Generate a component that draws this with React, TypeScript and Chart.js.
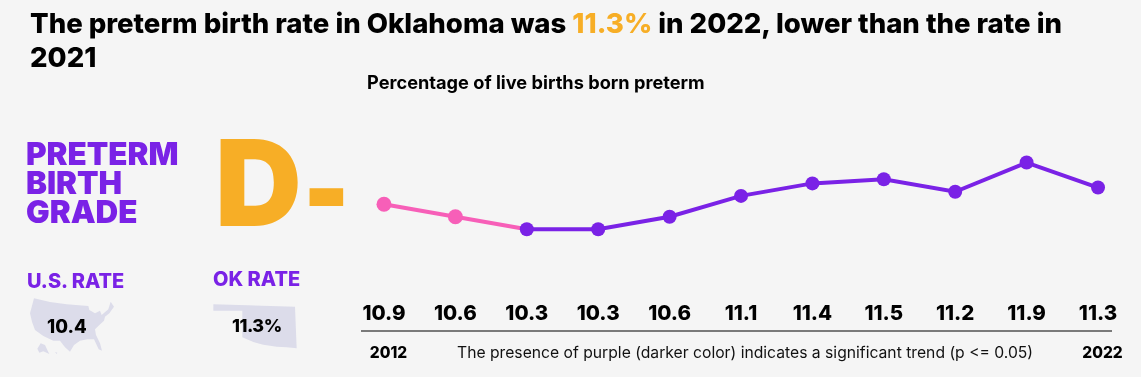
import React, { useEffect, useRef } from "react";
import { Chart, registerables } from "chart.js";

Chart.register(...registerables);

const years = [2012, 2013, 2014, 2015, 2016, 2017, 2018, 2019, 2020, 2021, 2022];
const rates = [10.9, 10.6, 10.3, 10.3, 10.6, 11.1, 11.4, 11.5, 11.2, 11.9, 11.3];
const significant = [false, false, true, true, true, true, true, true, true, true, true];
const edgeYears = [2012, 2022];

const PURPLE = "#7A22E6";
const PINK = "#F75FB8";
const GOLD = "#F7AE26";
const FONT = "Inter, sans-serif";

const text = (
  left: number,
  top: number,
  style: React.CSSProperties
): React.CSSProperties => ({
  position: "absolute",
  left,
  top,
  margin: 0,
  whiteSpace: "pre",
  fontFamily: FONT,
  ...style,
});

export default function App() {
  const ref = useRef<HTMLCanvasElement | null>(null);

  useEffect(() => {
    document.body.style.margin = "0";
    const chart = new Chart(ref.current!, {
      type: "line",
      data: {
        datasets: [
          {
            data: years.map((y, i) => ({ x: y, y: rates[i] })),
            borderWidth: 4,
            borderColor: PURPLE,
            segment: {
              borderColor: (c: any) => (significant[c.p1DataIndex] && significant[c.p0DataIndex] ? PURPLE : PINK),
            },
            pointRadius: significant.map((s) => (s ? 7 : 7.5)),
            pointBackgroundColor: significant.map((s) => (s ? PURPLE : PINK)),
            pointBorderWidth: 0,
            tension: 0,
          },
        ],
      },
      options: {
        animation: false,
        responsive: false,
        events: [],
        layout: { padding: { left: 362, right: 30, top: 100, bottom: 0 } },
        plugins: { legend: { display: false }, tooltip: { enabled: false } },
        scales: {
          x: {
            type: "linear",
            min: 2011.692,
            max: 2022.182,
            grid: { display: false, drawTicks: false },
            border: { color: "#7a7a7a", width: 2 },
            afterFit: (s: any) => {
              s.height = 46;
            },
            ticks: {
              stepSize: 1,
              includeBounds: false,
              autoSkip: false,
              maxRotation: 0,
              padding: 13,
              labelOffset: 4.5,
              color: "#000",
              font: { family: FONT, size: 15.5, weight: 800 },
              callback: (v: any) => (edgeYears.includes(Number(v)) ? String(v) : ""),
            },
          },
          xValues: {
            type: "linear",
            axis: "x",
            position: { y: 8.56 },
            min: 2011.692,
            max: 2022.182,
            grid: { display: false, drawTicks: false },
            border: { display: false },
            ticks: {
              stepSize: 1,
              includeBounds: false,
              autoSkip: false,
              maxRotation: 0,
              padding: 0,
              color: "#000",
              font: { family: FONT, size: 20.5, weight: 800 },
              callback: (v: any) => {
                const i = years.indexOf(Number(v));
                return i >= 0 ? rates[i].toFixed(1) : "";
              },
            },
          } as any,
          y: { display: false, min: 7.86, max: 13.4 },
        },
      } as any,
    });
    return () => chart.destroy();
  }, []);

  return (
    <div style={{ position: "absolute", left: 0, top: 0, width: 1141, height: 377, background: "#f5f5f5", overflow: "hidden" }}>
      <svg width={350} height={127} viewBox="0 0 1050 381" style={{ position: "absolute", left: 0, top: 250 }}>
        <path
          fill="#dcdcea"
          d="M102 145L150 156L200 163L265 168L268 180L285 190L300 182L305 195L325 178L332 155L342 170L328 190L315 200L312 212L298 225L285 238L288 255L300 280L306 302L296 298L282 268L262 268L240 272L222 285L210 305L195 292L180 272L160 272L130 258L105 240L96 215L90 190ZM112 296L122 280L135 285L142 300L148 312L130 304L118 308ZM165 306L172 308L170 312Z"
        />
        <path fill="#dcdcea" d="M640 163L885 170L890 295L860 292L830 290L790 284L760 276L727 262L727 182L640 182Z" />
      </svg>
      <canvas ref={ref} width={1141} height={377} style={{ position: "absolute", left: 0, top: 0 }} />
      <h1 style={text(30, 6, { fontSize: 27.55, lineHeight: "34px", fontWeight: 800, color: "#000" })}>
        {"The preterm birth rate in Oklahoma was "}
        <span style={{ color: GOLD }}>11.3%</span>
        {" in 2022, lower than the rate in\n2021"}
      </h1>
      <div style={text(367, 72, { fontSize: 18.2, lineHeight: "20px", fontWeight: 700, color: "#000" })}>
        Percentage of live births born preterm
      </div>
      <div style={text(26, 140, { fontSize: 31.4, lineHeight: "29px", fontWeight: 900, color: PURPLE })}>
        {"PRETERM\nBIRTH\nGRADE"}
      </div>
      <div style={text(215, 110, { fontSize: 120, lineHeight: "145px", fontWeight: 900, color: GOLD })}>D</div>
      <div
        style={text(303, 116, {
          fontSize: 120,
          lineHeight: "145px",
          fontWeight: 900,
          color: GOLD,
          transform: "scaleX(0.82)",
          transformOrigin: "0 0",
        })}
      >
        -
      </div>
      <div style={text(27, 269, { fontSize: 20, lineHeight: "24px", fontWeight: 800, color: PURPLE })}>U.S. RATE</div>
      <div style={text(213, 267, { fontSize: 20, lineHeight: "24px", fontWeight: 800, color: PURPLE })}>OK RATE</div>
      <div style={text(47, 315, { fontSize: 18.5, lineHeight: "22px", fontWeight: 800, color: "#000" })}>10.4</div>
      <div style={text(232, 315, { fontSize: 18, lineHeight: "22px", fontWeight: 800, letterSpacing: -0.5, color: "#000" })}>11.3%</div>
      <div style={text(457, 343, { fontSize: 15.7, lineHeight: "20px", fontWeight: 400, color: "#111" })}>
        The presence of purple (darker color) indicates a significant trend (p &lt;= 0.05)
      </div>
    </div>
  );
}
